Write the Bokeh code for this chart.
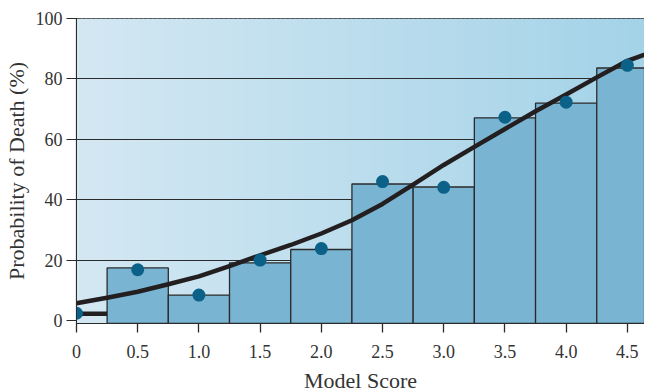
import numpy as np
from bokeh.plotting import figure
from bokeh.models import FixedTicker, Range1d
from bokeh.embed import file_html
from bokeh.resources import INLINE

# ---- data ----
score = [0.0, 0.5, 1.0, 1.5, 2.0, 2.5, 3.0, 3.5, 4.0, 4.5]
bar_pct = [2.2, 17.4, 8.4, 19.1, 23.5, 45.2, 44.2, 67.1, 72.0, 83.6]
obs_pct = [2.4, 16.8, 8.4, 20.0, 23.8, 46.0, 44.1, 67.3, 72.3, 84.5]
curve_x = [0.0, 0.25, 0.5, 0.75, 1.0, 1.25, 1.5, 1.75, 2.0, 2.25, 2.5,
           2.75, 3.0, 3.25, 3.5, 3.75, 4.0, 4.25, 4.5, 4.75]
curve_y = [5.7, 7.5, 9.5, 12.0, 14.6, 18.0, 21.6, 25.0, 28.8, 33.2, 38.6,
           45.0, 51.5, 57.5, 63.4, 69.3, 74.8, 80.5, 86.0, 89.6]
x_ticks = [0, 0.5, 1.0, 1.5, 2.0, 2.5, 3.0, 3.5, 4.0, 4.5]
x_tick_labels = ["0", "0.5", "1.0", "1.5", "2.0", "2.5", "3.0", "3.5", "4.0", "4.5"]
y_ticks = [0, 20, 40, 60, 80, 100]

BAR_W = 0.5
FONT = "Liberation Serif"
DARK = "#2b2b2b"
X_END = 4.64

p = figure(width=644, height=395, output_backend="svg", toolbar_location=None,
           x_range=Range1d(0, X_END), y_range=Range1d(-1, 100),
           min_border_left=60, min_border_right=0, min_border_top=18,
           min_border_bottom=50)

# gradient background (style only)
n = 120
xs = np.linspace(0, X_END, n + 1)
c0 = np.array([0xd4, 0xe8, 0xf3]); c1 = np.array([0xa4, 0xd3, 0xe8])
cols = []
for i in range(n):
    t = i / (n - 1)
    c = (c0 * (1 - t) + c1 * t).astype(int)
    cols.append("#%02x%02x%02x" % tuple(c))
p.quad(left=xs[:-1], right=xs[1:] + 0.01, bottom=-1, top=100, fill_color=cols,
       line_color=None, level="image")

p.background_fill_color = "#c0e0ef"
p.border_fill_color = "white"
p.outline_line_color = DARK
p.outline_line_width = 1.2

# grid
p.xgrid.visible = False
p.ygrid.ticker = FixedTicker(ticks=[20, 40, 60, 80])
p.ygrid.grid_line_color = DARK
p.ygrid.grid_line_width = 1.2

# bars (the first, near-zero bar appears as a thick line)
p.vbar(x=score[1:], top=bar_pct[1:], bottom=-1, width=BAR_W,
       fill_color="#79b4d2", line_color=DARK, line_width=1.3)
p.segment(x0=[score[0] - BAR_W / 2], x1=[score[0] + BAR_W / 2],
          y0=[bar_pct[0]], y1=[bar_pct[0]], line_color="#231f20", line_width=4.5)

# fitted curve
p.line(curve_x, curve_y, line_color="#231f20", line_width=4.5, line_join="round")

# observed points
p.scatter(score, obs_pct, size=13, fill_color="#0b6188", line_color=None)

# axes
p.xaxis.ticker = FixedTicker(ticks=x_ticks)
p.xaxis.major_label_overrides = {t: l for t, l in zip(x_ticks, x_tick_labels)}
p.xaxis.minor_tick_line_color = None
p.xaxis.major_tick_out = 9
p.xaxis.major_tick_in = 0
p.xaxis.major_tick_line_color = DARK
p.xaxis.major_tick_line_width = 1.3
p.xaxis.axis_line_color = DARK
p.xaxis.axis_label = "Model Score"
p.xaxis.axis_label_standoff = 7
p.xaxis.major_label_standoff = 12

p.yaxis.ticker = FixedTicker(ticks=y_ticks)
p.yaxis.minor_tick_line_color = None
p.yaxis.major_tick_out = 10
p.yaxis.major_tick_in = 0
p.yaxis.major_tick_line_color = DARK
p.yaxis.major_tick_line_width = 1.2
p.yaxis.axis_line_color = DARK
p.yaxis.axis_label = "Probability of Death (%)"
p.yaxis.axis_label_standoff = 4
p.yaxis.major_label_standoff = 4

for ax in (p.xaxis, p.yaxis):
    ax.major_label_text_font = FONT
    ax.major_label_text_font_size = "18px"
    ax.major_label_text_color = "#333333"
    ax.axis_label_text_font = FONT
    ax.axis_label_text_font_size = "22px"
    ax.axis_label_text_font_style = "normal"
    ax.axis_label_text_color = "#333333"

open("out.html", "w").write(file_html(p, INLINE))
